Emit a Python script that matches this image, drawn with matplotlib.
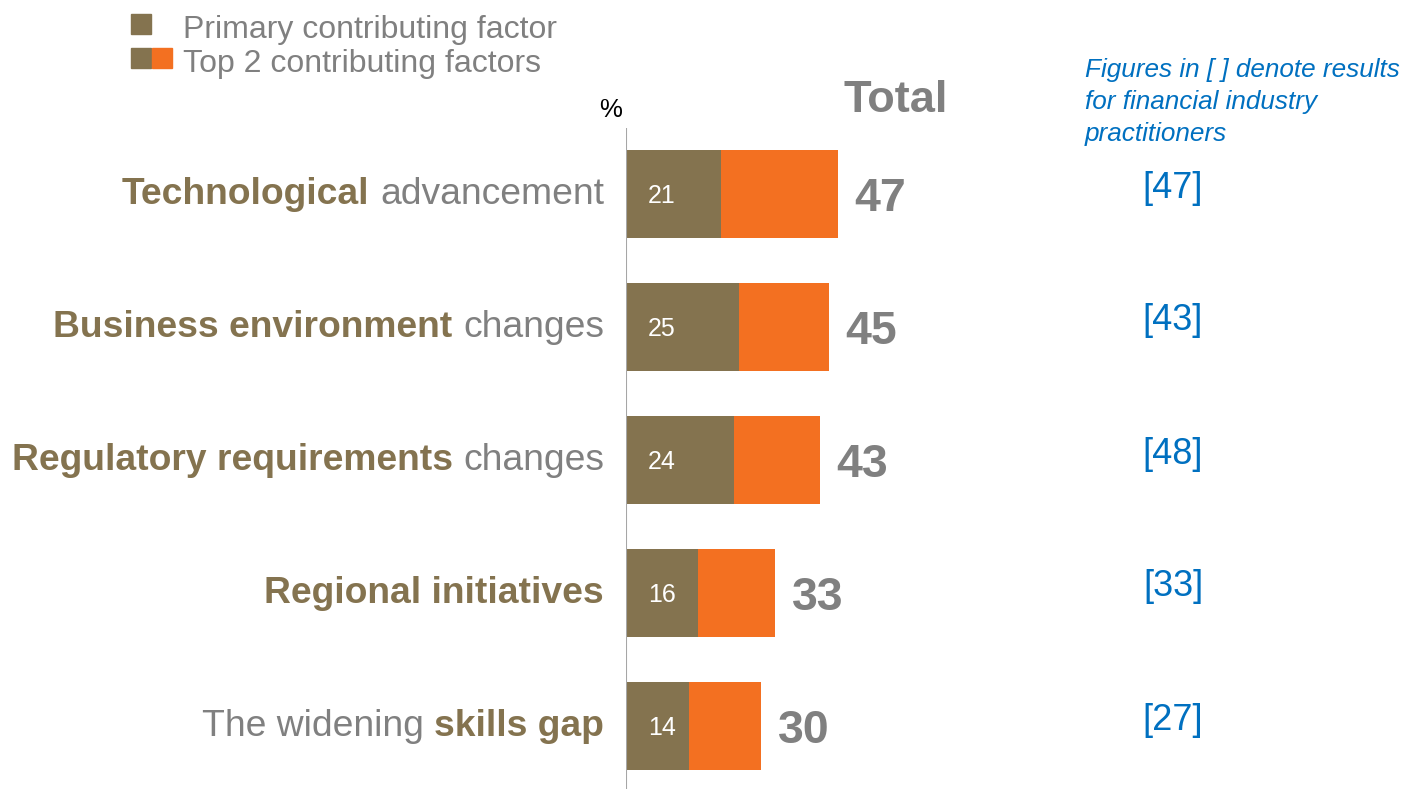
import matplotlib
matplotlib.use("Agg")
import matplotlib.pyplot as plt
from matplotlib.transforms import blended_transform_factory, offset_copy
from matplotlib.patches import Rectangle

plt.rcParams['font.family'] = ['Liberation Sans', 'DejaVu Sans']

# Survey data
label_parts = [
    [("Technological", True), ("advancement", False)],
    [("Business environment", True), ("changes", False)],
    [("Regulatory requirements", True), ("changes", False)],
    [("Regional initiatives", True)],
    [("The widening", False), ("skills gap", True)],
]
primary = [21, 25, 24, 16, 14]
top2 = [47, 45, 43, 33, 30]
industry = [47, 43, 48, 33, 27]

BROWN = "#84734F"
ORANGE = "#F37021"
GRAY = "#808080"
BLUE = "#0070C0"

W, H, DPI = 1407, 789, 100
fig = plt.figure(figsize=(W / DPI, H / DPI), dpi=DPI)

# Axes: left edge at the baseline, 4.5 px per percentage point
ax_left, ax_top = 626, 128
ax = fig.add_axes([ax_left / W, 0, (W - ax_left) / W, (H - ax_top) / H])
ax.set_xlim(0, (W - ax_left) / 4.5)
ax.set_ylim(4 + (H - 726) / 133, -66 / 133)
ax.axis("off")
ax.axvline(0, color="#A6A6A6", lw=1.5, zorder=5)

y = list(range(len(primary)))
remainder = [t - p for t, p in zip(top2, primary)]
ax.barh(y, primary, height=0.66, color=BROWN, edgecolor="none")
ax.barh(y, remainder, left=primary, height=0.66, color=ORANGE, edgecolor="none")

def shifted(trans, dx=0, dy=0):
    return offset_copy(trans, fig=fig, x=dx, y=dy, units="dots")

for i in y:
    ax.text(0, i, str(primary[i]), transform=shifted(ax.transData, 22, -9),
            color="white", fontsize=18, ha="left", va="baseline")
    ax.text(top2[i], i, str(top2[i]), transform=shifted(ax.transData, 17, -17),
            color=GRAY, fontsize=33.5, fontweight="bold", ha="left", va="baseline")

# Column for industry practitioners
bt = blended_transform_factory(fig.transFigure, ax.transData)
for i in y:
    ax.text(1173 / W, i, f"[{industry[i]}]", transform=shifted(bt, 0, 6),
            color=BLUE, fontsize=26, ha="center", va="center")

fig.text(1085 / W, 1 - 58 / H,
         "Figures in [ ] denote results\nfor financial industry\npractitioners",
         color=BLUE, fontsize=18.8, style="italic", ha="left", va="top",
         linespacing=1.42)

fig.text(896 / W, 1 - 100 / H, "Total", color=GRAY, fontsize=32.5,
         fontweight="bold", ha="center", va="center")
fig.text(611 / W, 1 - 110 / H, "%", color="black", fontsize=18.5,
         ha="center", va="center")

# Legend
legend_items = [
    ([BROWN], "Primary contributing factor", 24),
    ([BROWN, ORANGE], "Top 2 contributing factors", 58),
]
for colors, text, ytop in legend_items:
    for k, c in enumerate(colors):
        fig.patches.append(Rectangle(((131 + 21 * k) / W, 1 - (ytop + 10) / H),
                                     20 / W, 20 / H, transform=fig.transFigure,
                                     color=c, zorder=3))
    fig.text(183 / W, 1 - (ytop + 6) / H, text, color=GRAY, fontsize=23,
             ha="left", va="center")

# Category labels with mixed weights, composed right to left
renderer = fig.canvas.get_renderer()
LABEL_FS = 26.8

def text_width(s, weight):
    t = fig.text(0, 0, s, fontsize=LABEL_FS, fontweight=weight)
    w = t.get_window_extent(renderer).width
    t.remove()
    return w

space_w = text_width("a a", "normal") - text_width("aa", "normal")

for i, parts in enumerate(label_parts):
    x_right = 604
    for j, (s, bold) in enumerate(reversed(parts)):
        t = ax.text(x_right / W, i, s, transform=shifted(bt, 0, -10),
                    color=BROWN if bold else GRAY, fontsize=LABEL_FS,
                    fontweight="bold" if bold else "normal",
                    ha="right", va="baseline")
        ext = t.get_window_extent(renderer)
        x_right = ext.x0 - space_w

fig.savefig("out.png", dpi=DPI, facecolor="white")
